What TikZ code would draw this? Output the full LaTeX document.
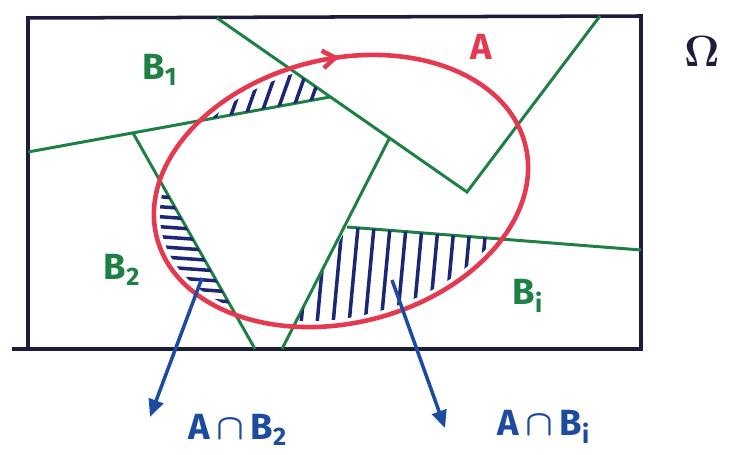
\documentclass[tikz,border=0pt]{standalone}
\usepackage{amsmath}
\usepackage{fontspec}
\setmainfont{Fira Sans}
\usetikzlibrary{arrows.meta, decorations.markings}
\usepackage{xcolor}
\definecolor{omeganavy}{HTML}{1c1c3c}
\definecolor{partgreen}{HTML}{1f8044}
\definecolor{eventred}{HTML}{e53950}
\definecolor{hatchnavy}{HTML}{1b2675}
\definecolor{arrowblue}{HTML}{1d4ba0}
\tikzset{
  omegabox/.style={draw=omeganavy, line width=2pt},
  partline/.style={draw=partgreen, line width=1.7pt},
  eventline/.style={draw=eventred, line width=2.6pt},
  hatchline/.style={draw=hatchnavy, line width=2pt, line cap=round},
  pointer/.style={-{Triangle[length=3.5mm,width=3mm]}, draw=arrowblue, line width=2pt},
  partlab/.style={text=partgreen, font=\huge\bfseries},
  eventlab/.style={text=eventred, font=\huge\bfseries},
  interlab/.style={text=arrowblue, font=\huge\bfseries},
}

\begin{document}
\begin{tikzpicture}[x=0.02cm, y=-0.02cm]
  \useasboundingbox (0,0) rectangle (734,455);

  % --- sample space Omega ---
  \draw[omegabox] (12,349) -- (641,349) -- (641,16) -- (28,18) -- (28,349);
  \node[font=\Huge, text=omeganavy] (omega) at (702,52) {$\boldsymbol{\Omega}$};

  % --- partition lines ---
  \coordinate (t1) at (217,18);
  \coordinate (k1) at (467,192);
  \coordinate (t2) at (600,16);
  \coordinate (l1) at (28,152);
  \coordinate (m1) at (330,97);
  \coordinate (m2) at (133,133);
  \coordinate (b1) at (255,349);
  \coordinate (b2) at (282,349);
  \coordinate (m3) at (390,137);
  \coordinate (m4) at (347,227);
  \coordinate (r1) at (641,250);
  \draw[partline] (t1) -- (k1) -- (t2);
  \draw[partline] (l1) -- (m1);
  \draw[partline] (m2) -- (b1);
  \draw[partline] (b2) -- (m3);
  \draw[partline] (m4) -- (r1);

  % --- event A ---
  \coordinate (ca) at (341,191);
  \draw[eventline, rotate around={14:(ca)}, postaction={decorate},
        decoration={markings, mark=at position 0.22 with
        {\arrowreversed{Straight Barb[length=2.5mm,width=3.5mm]}}}]
        (ca) ellipse [x radius=3.8cm, y radius=2.64cm];

  % --- hatched intersections ---
  \begin{scope}
    \clip[rotate around={14:(ca)}] (ca) ellipse [x radius=3.68cm, y radius=2.52cm];
    \begin{scope}
      \clip (28,18) -- (t1) -- (m1) -- (l1) -- cycle;
      \foreach \x in {200,215,...,305}
        \draw[hatchline] (\x,118) -- ++(22,-62);
    \end{scope}
    \begin{scope}
      \clip (l1) -- (m2) -- (b1) -- (28,349) -- cycle;
      \foreach \y in {186,196,...,316}
        \draw[hatchline] (150,\y) -- ++(110,8);
    \end{scope}
    \begin{scope}
      \clip (m4) -- (r1) -- (641,349) -- (b2) -- cycle;
      \foreach \x in {300,316,...,480}
        \draw[hatchline] (\x,335) -- ++(10,-108);
    \end{scope}
  \end{scope}

  % --- labels ---
  \node[eventlab] (alab) at (481,47) {A};
  \node[partlab] (b1lab) at (160,70) {B\textsubscript{1}};
  \node[partlab] (b2lab) at (122,270) {B\textsubscript{2}};
  \node[partlab] (bilab) at (528,296) {B\textsubscript{i}};
  \node[interlab] (ab2) at (238,430) {A$\,\boldsymbol{\cap}\,$B\textsubscript{2}};
  \node[interlab] (abi) at (544,427) {A$\,\boldsymbol{\cap}\,$B\textsubscript{i}};

  % --- pointers ---
  \coordinate (p2) at (202,278);
  \coordinate (e2) at (150,417);
  \coordinate (pi) at (392,280);
  \coordinate (ei) at (445,428);
  \draw[pointer] (p2) -- (e2);
  \draw[pointer] (pi) -- (ei);
\end{tikzpicture}
\end{document}
